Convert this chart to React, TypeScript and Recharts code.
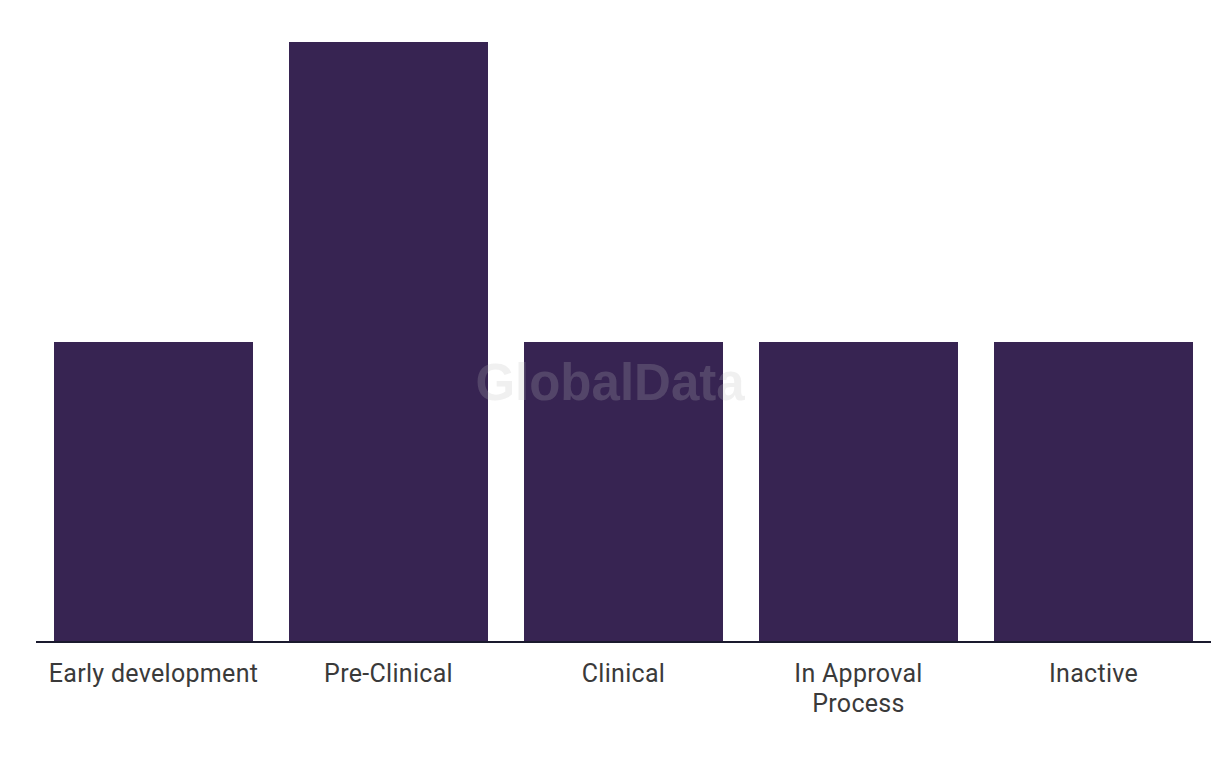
import { Bar, BarChart, XAxis, YAxis } from 'recharts';

const stages = ['Early development', 'Pre-Clinical', 'Clinical', 'In Approval Process', 'Inactive'];
const counts = [1, 2, 1, 1, 1];

const chartData = stages.map((stage, i) => ({ stage, count: counts[i] }));

const LABEL_FONT = '25px Roboto, sans-serif';
const LABEL_MAX_WIDTH = 215;

let ctx: CanvasRenderingContext2D | null = null;
function measure(s: string) {
  if (!ctx) {
    ctx = document.createElement('canvas').getContext('2d');
    if (ctx) ctx.font = LABEL_FONT;
  }
  return ctx ? ctx.measureText(s).width + s.length * 0.3 : s.length * 12;
}

function wrapLabel(label: string) {
  const lines: string[] = [];
  let cur = '';
  for (const word of label.split(' ')) {
    const next = cur ? `${cur} ${word}` : word;
    if (cur && measure(next) > LABEL_MAX_WIDTH) {
      lines.push(cur);
      cur = word;
    } else {
      cur = next;
    }
  }
  if (cur) lines.push(cur);
  return lines;
}

function StageTick(props: any) {
  const { x, y, payload } = props;
  const lines = wrapLabel(String(payload.value));
  return (
    <text
      x={x}
      y={y + 32}
      textAnchor="middle"
      fill="#3a3a3a"
      fontSize={25}
      letterSpacing={0.3}
      fontFamily="Roboto, sans-serif"
    >
      {lines.map((line, i) => (
        <tspan key={line} x={x} dy={i === 0 ? 0 : 30}>
          {line}
        </tspan>
      ))}
    </text>
  );
}

export default function App() {
  return (
    <div style={{ position: 'absolute', left: 0, top: 0, width: 1220, height: 766, background: '#fff' }}>
      <BarChart
        width={1220}
        height={766}
        data={chartData}
        margin={{ top: 42, right: 9, left: 36, bottom: 0 }}
        barCategoryGap={18}
      >
        <XAxis
          dataKey="stage"
          interval={0}
          height={124}
          tickLine={false}
          axisLine={{ stroke: '#1a1a2e', strokeWidth: 2 }}
          tick={<StageTick />}
        />
        <YAxis hide domain={[0, 2]} />
        <Bar dataKey="count" fill="#372452" isAnimationActive={false} />
      </BarChart>
      {/* watermark sits on top of the bars */}
      <div
        style={{
          position: 'absolute',
          left: 0,
          top: 354,
          width: 1220,
          textAlign: 'center',
          fontFamily: '"Liberation Sans", Arial, sans-serif',
          fontWeight: 700,
          fontSize: 51,
          lineHeight: '58px',
          color: 'rgba(187, 187, 187, 0.22)',
          pointerEvents: 'none',
        }}
      >
        GlobalData
      </div>
    </div>
  );
}
